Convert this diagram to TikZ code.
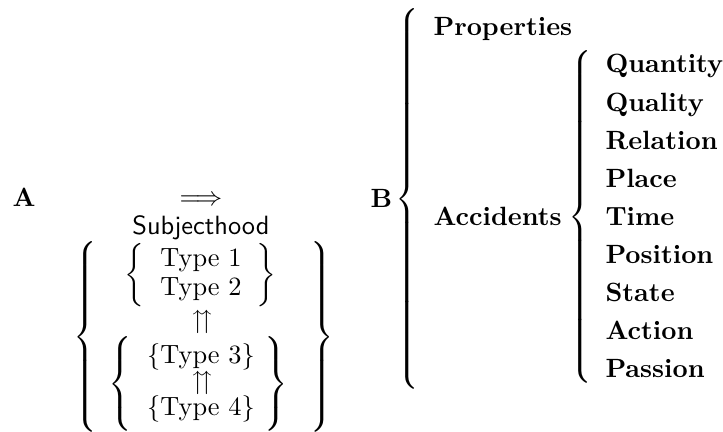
\documentclass[tikz,border=0pt]{standalone}
\usepackage{amssymb}

\newcommand{\openbr}[1]{$\delimiterfactor=1000\delimitershortfall=0pt\left\{\vcenter{\hbox{\rule{0pt}{#1}}}\right.$}
\newcommand{\closebr}[1]{$\delimiterfactor=1000\delimitershortfall=0pt\left.\vcenter{\hbox{\rule{0pt}{#1}}}\right\}$}

\begin{document}
\begin{tikzpicture}[x=0.3788pt,y=-0.3788pt,
    txt/.style={inner sep=0pt,anchor=base},
    lab/.style={inner sep=0pt,anchor=base west,font=\bfseries},
    br/.style={inner sep=0pt}]
    %\draw[step=20,lightgray,ultra thin] (0,0) grid (723,432);
    \useasboundingbox (0,0) rectangle (723,432);
    % A
    \node[lab] (A) at (12,206) {A};
    \node[inner sep=0pt] (arrow) at (201,201) {$\Longrightarrow$};
    \node[txt] (subj) at (201,234) {\textsf{Subjecthood}};
    \node[txt] (t1) at (201,266) {Type 1};
    \node[txt] (t2) at (201,295) {Type 2};
    \node[inner sep=0pt] (up1) at (202,322) {$\upuparrows$};
    \node[txt] (t3) at (201,363) {\{Type 3\}};
    \node[inner sep=0pt] (up2) at (202,383) {$\upuparrows$};
    \node[txt] (t4) at (201,415) {\{Type 4\}};
    \node[br] (bigL) at (87,337) {\openbr{71pt}};
    \node[br] (bigR) at (321,337) {\closebr{71pt}};
    \node[br] (g1L) at (136,275) {\openbr{21.5pt}};
    \node[br] (g1R) at (265,275) {\closebr{21.5pt}};
    \node[br] (g2L) at (122,384) {\openbr{34pt}};
    \node[br] (g2R) at (275,384) {\closebr{34pt}};
    % B
    \node[lab] (B) at (370,207) {B};
    \node[br] (Bbr) at (409,199) {\openbr{139pt}};
    \node[lab] (prop) at (433,35) {Properties};
    \node[lab] (acc) at (433,225) {Accidents};
    \node[br] (accbr) at (582,217) {\openbr{123pt}};
    \foreach \w [count=\i from 0] in {Quantity,Quality,Relation,Place,Time,Position,State,Action,Passion}
        \node[lab] (cat\i) at (605,{73+38*\i}) {\w};
\end{tikzpicture}
\end{document}
